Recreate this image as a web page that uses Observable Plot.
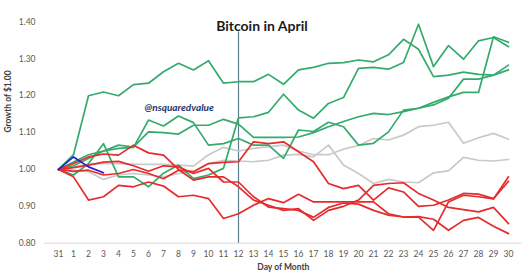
<!DOCTYPE html>
<html><head><meta charset="utf-8">
<script src="https://cdn.jsdelivr.net/npm/d3@7"></script>
<script src="https://cdn.jsdelivr.net/npm/@observablehq/plot@0.6"></script>
<style>body{margin:0;background:#fff}</style>
</head><body><div id="chart"></div>
<script>
const days = ["31","1","2","3","4","5","6","7","8","9","10","11","12","13","14","15","16","17","18","19","20","21","22","23","24","25","26","27","28","29","30"];
const yTicks = [0.8, 0.9, 1.0, 1.1, 1.2, 1.3, 1.4];
const title = "Bitcoin in April";
const xTitle = "Day of Month";
const yTitle = "Growth of $1.00";
const credit = "@nsquaredvalue";
const markerDay = "12";
const markerTop = 1.373;

const green1 = [1.00,1.04,1.20,1.21,1.20,1.23,1.234,1.265,1.288,1.27,1.295,1.234,1.238,1.238,1.258,1.231,1.27,1.277,1.288,1.29,1.297,1.292,1.311,1.353,1.326,1.252,1.256,1.264,1.258,1.256,1.283];
const green2 = [1.00,0.985,1.016,1.07,0.98,0.98,0.953,0.99,1.012,0.975,0.985,1.003,1.14,1.143,1.155,1.204,1.161,1.139,1.179,1.195,1.274,1.277,1.272,1.29,1.394,1.279,1.336,1.299,1.349,1.358,1.333];
const green3 = [1.00,1.02,1.04,1.05,1.057,1.06,1.134,1.118,1.145,1.127,1.066,1.07,1.084,1.066,1.066,1.03,1.107,1.103,1.128,1.116,1.066,1.071,1.102,1.161,1.166,1.175,1.193,1.245,1.245,1.256,1.27];
const green4 = [1.00,1.01,1.03,1.05,1.066,1.061,1.102,1.10,1.096,1.12,1.12,1.136,1.123,1.087,1.087,1.087,1.088,1.10,1.116,1.13,1.143,1.152,1.149,1.157,1.166,1.182,1.197,1.209,1.209,1.36,1.345];
const gray1 = [1.00,1.007,1.014,1.016,1.016,1.014,1.014,1.014,1.012,1.009,1.04,1.06,1.05,1.057,1.062,1.066,1.05,1.04,1.04,1.055,1.065,1.084,1.08,1.093,1.116,1.12,1.128,1.071,1.086,1.098,1.082];
const gray2 = [1.00,0.998,0.994,0.973,0.985,0.989,0.985,0.98,0.989,0.994,1.016,1.025,1.023,1.021,1.025,1.039,1.041,1.034,1.066,1.012,0.989,0.962,0.973,0.966,0.964,0.991,0.996,1.033,1.025,1.023,1.027];
const red1 = [1.00,0.98,0.917,0.926,0.957,0.953,0.966,0.955,0.926,0.93,0.921,0.867,0.88,0.903,0.921,0.91,0.933,0.912,0.912,0.912,0.912,0.912,0.88,0.871,0.872,0.865,0.835,0.862,0.87,0.846,0.826];
const red2 = [1.00,1.016,1.034,1.042,1.039,1.066,1.045,1.039,1.0,0.971,0.98,0.98,0.953,0.917,0.903,0.889,0.894,0.862,0.889,0.9,0.917,0.957,0.962,0.964,0.935,0.917,0.897,0.891,0.885,0.897,0.853];
const red3 = [1.00,1.005,1.012,1.02,1.022,1.01,0.995,1.01,1.007,0.989,1.003,0.966,0.966,0.926,0.898,0.894,0.889,0.87,0.897,0.909,0.906,0.889,0.876,0.871,0.871,0.835,0.912,0.93,0.926,0.92,0.98];
const red4 = [1.00,0.995,0.998,0.985,0.989,1.0,0.989,0.975,0.998,0.994,1.016,1.019,1.021,1.075,1.07,1.075,1.048,1.021,0.962,0.948,0.957,0.917,0.95,0.939,0.9,0.903,0.917,0.935,0.933,0.921,0.968];
const blue = [1.00,1.034,1.007,0.991];

const series = [
  {name: "gray1", group: "flat", values: gray1},
  {name: "gray2", group: "flat", values: gray2},
  {name: "green1", group: "up", values: green1},
  {name: "green2", group: "up", values: green2},
  {name: "green3", group: "up", values: green3},
  {name: "green4", group: "up", values: green4},
  {name: "red1", group: "down", values: red1},
  {name: "red2", group: "down", values: red2},
  {name: "red3", group: "down", values: red3},
  {name: "red4", group: "down", values: red4},
  {name: "blue", group: "current", values: blue}
];
const colors = {flat: "#c9c9c9", up: "#34ab6c", down: "#e62b2d", current: "#1f22cf"};
const rows = series.flatMap(s => s.values.map((v, i) => ({series: s.name, group: s.group, day: days[i], value: v})));

const chart = Plot.plot({
  width: 526,
  height: 277,
  marginLeft: 44,
  marginRight: 4.3,
  marginTop: 21.5,
  marginBottom: 34.3,
  style: {fontFamily: "Lato, 'Open Sans', sans-serif", background: "#fff", overflow: "visible"},
  x: {type: "point", domain: days, padding: 0.5},
  y: {domain: [0.8, 1.4]},
  marks: [
    Plot.ruleY([0.8], {stroke: "#d9d9d9", strokeWidth: 1}),
    Plot.axisX({tickSize: 0, tickPadding: 8, fontSize: 8.5, color: "#595959", label: null}),
    Plot.axisY({ticks: yTicks, tickFormat: d3.format(".2f"), tickSize: 0, tickPadding: 9, fontSize: 8.5, color: "#595959", label: null}),
    Plot.ruleX([markerDay], {y1: markerTop, y2: 0.8, stroke: "#5d7f8e", strokeWidth: 1.2}),
    Plot.line(rows, {x: "day", y: "value", z: "series", stroke: d => colors[d.group], strokeWidth: 1.7, curve: "linear"}),
    Plot.text([title], {frameAnchor: "top", dx: -21.4, dy: 5, lineAnchor: "middle", fontSize: 14, fontWeight: "bold", fill: "#1a1a1a"}),
    Plot.text([credit], {frameAnchor: "top-left", textAnchor: "start", dx: 100, dy: 85.5, lineAnchor: "middle", fontSize: 10, fontWeight: "bold", fontStyle: "italic", fill: "#24346b"}),
    Plot.text([xTitle], {frameAnchor: "bottom", dy: 24, lineAnchor: "middle", fontSize: 8.5, fontWeight: "bold", fill: "#404040"}),
    Plot.text([yTitle], {frameAnchor: "left", dx: -36, rotate: -90, fontSize: 8.5, fontWeight: "bold", fill: "#404040"})
  ]
});
document.getElementById("chart").appendChild(chart);
</script>
</body></html>
